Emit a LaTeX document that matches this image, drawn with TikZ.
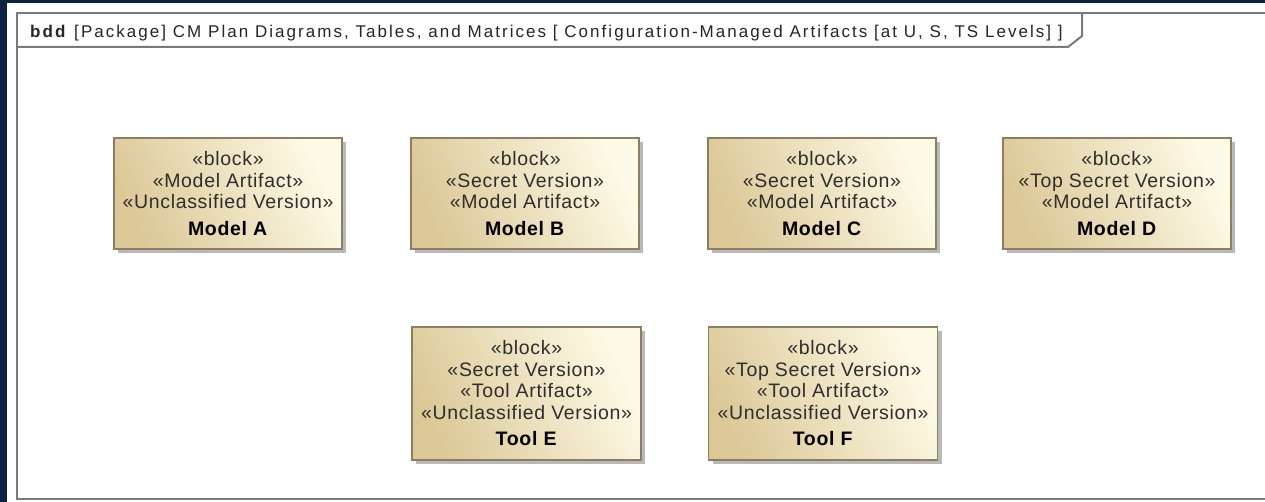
\documentclass[tikz,border=0pt]{standalone}
\usepackage{fontspec}
\setmainfont{Liberation Sans}
\newfontfamily\headerfont[LetterSpace=12]{Liberation Sans}
\newfontfamily\blockfont[LetterSpace=3.5]{Liberation Sans}
\usetikzlibrary{shadows}

\definecolor{navy}{HTML}{0B2343}
\definecolor{framegray}{HTML}{7A7A7A}
\definecolor{blockdark}{HTML}{DCC897}
\definecolor{blocklight}{HTML}{FDFAE6}
\definecolor{blockedge}{HTML}{8C7E60}
\definecolor{stereo}{HTML}{2E2E2E}

\begin{document}
\begin{tikzpicture}[x=1pt,y=-1pt,
  framerule/.style={draw=framegray, line width=2pt},
  blockbox/.style={draw=blockedge, line width=1.3pt,
    left color=blockdark, right color=blocklight, shading angle=115,
    inner sep=0pt, align=center, text=stereo,
    font=\blockfont\fontsize{19.5}{21.5}\selectfont,
    drop shadow={shadow xshift=4pt, shadow yshift=-4pt, fill=black!50, opacity=0.55}},
  modelbox/.style={blockbox, minimum width=228pt, minimum height=111pt},
  toolbox/.style={blockbox, minimum width=229pt, minimum height=133pt}
]
\useasboundingbox (0,0) rectangle (1265,502);

% page background and diagram frame
\fill[navy] (0,0) rectangle (1265,502);
\fill[white] (7,3) rectangle (1265,502);
\draw[framerule] (1266,13) -- (17,13) -- (17,499) -- (1266,499);
\draw[framerule] (17,47) -- (1068,47) -- (1082,36) -- (1082,13);

\node[anchor=base west, inner sep=0pt, text=black!85,
      font=\headerfont\fontsize{17}{19}\selectfont] (title) at (30,37.5)
  {\textbf{bdd} [Package] CM Plan Diagrams, Tables, and Matrices [ Configuration-Managed Artifacts [at U, S, TS Levels] ]};

% model artifacts
\node[modelbox] (modelA) at (228,193.5)
  {«block»\\«Model Artifact»\\«Unclassified Version»\\[5pt]\textcolor{black}{\textbf{Model A}}};
\node[modelbox] (modelB) at (525,193.5)
  {«block»\\«Secret Version»\\«Model Artifact»\\[5pt]\textcolor{black}{\textbf{Model B}}};
\node[modelbox] (modelC) at (822,193.5)
  {«block»\\«Secret Version»\\«Model Artifact»\\[5pt]\textcolor{black}{\textbf{Model C}}};
\node[modelbox] (modelD) at (1117,193.5)
  {«block»\\«Top Secret Version»\\«Model Artifact»\\[5pt]\textcolor{black}{\textbf{Model D}}};

% tool artifacts
\node[toolbox] (toolE) at (526.5,393.5)
  {«block»\\«Secret Version»\\«Tool Artifact»\\«Unclassified Version»\\[5pt]\textcolor{black}{\textbf{Tool E}}};
\node[toolbox] (toolF) at (823,393.5)
  {«block»\\«Top Secret Version»\\«Tool Artifact»\\«Unclassified Version»\\[5pt]\textcolor{black}{\textbf{Tool F}}};
\end{tikzpicture}
\end{document}
